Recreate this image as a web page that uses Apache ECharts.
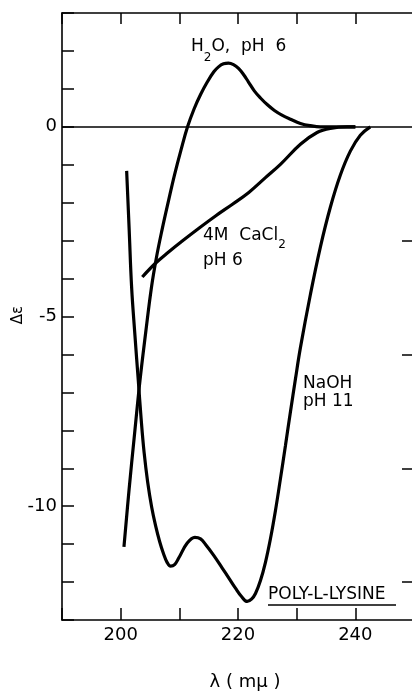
<!DOCTYPE html>
<html>
<head>
<meta charset="utf-8">
<script src="https://cdn.jsdelivr.net/npm/echarts@6/dist/echarts.min.js"></script>
<style>
html,body{margin:0;padding:0;background:#fff;overflow:hidden;}
#chart{width:412px;height:691px;}
</style>
</head>
<body>
<div id="chart"></div>
<script>
// Wavelength (mμ) and Δε values
var h2oX = [200.56, 201.46, 202.30, 203.29, 204.26, 205.24, 206.09, 207.06, 208.17, 209.19, 210.30, 211.40, 212.51, 213.62, 214.76, 215.88, 216.68, 217.53, 218.38, 219.23, 220.09, 220.94, 221.79, 222.81, 223.83, 225.02, 226.21, 227.57, 228.94, 230.64, 232.34, 234.04, 237.0, 240.0];
var h2oY = [-11.07, -9.52, -8.20, -6.69, -5.43, -4.24, -3.45, -2.71, -1.94, -1.26, -0.60, 0.0, 0.47, 0.85, 1.18, 1.45, 1.58, 1.66, 1.68, 1.64, 1.54, 1.38, 1.18, 0.94, 0.76, 0.58, 0.43, 0.30, 0.20, 0.09, 0.03, 0.0, 0.0, 0.0];

var caclX = [203.69, 205.84, 208.17, 210.50, 213.28, 216.17, 219.06, 221.84, 224.68, 227.23, 230.64, 233.48, 235.74, 238.59, 240.0];
var caclY = [-3.96, -3.61, -3.30, -3.01, -2.68, -2.35, -2.04, -1.73, -1.34, -0.99, -0.46, -0.15, -0.04, 0.0, 0.0];

var naohX = [201.02, 201.45, 201.87, 202.43, 203.01, 203.49, 204.00, 204.60, 205.28, 205.96, 206.64, 207.32, 207.91, 208.51, 209.19, 209.92, 211.35, 212.65, 213.62, 214.47, 215.83, 217.31, 218.47, 219.57, 220.60, 221.57, 222.30, 222.98, 223.83, 224.68, 225.53, 226.38, 227.23, 228.09, 228.94, 229.79, 230.64, 232.34, 234.04, 235.74, 237.45, 239.15, 240.85, 242.55];
var naohY = [-1.16, -2.71, -4.24, -5.49, -6.70, -7.70, -8.59, -9.36, -10.02, -10.52, -10.93, -11.26, -11.48, -11.58, -11.54, -11.36, -10.97, -10.82, -10.86, -11.01, -11.29, -11.63, -11.90, -12.16, -12.38, -12.51, -12.45, -12.30, -11.96, -11.48, -10.86, -10.12, -9.28, -8.40, -7.51, -6.65, -5.82, -4.42, -3.17, -2.12, -1.27, -0.64, -0.22, 0.0];

var xTickLabels = [200, 220, 240];
var yTickLabels = [0, -5, -10];
var rightTicks = [-3, -6, -9, -12];
var zeroLine = 0;

function pairs(xs, ys) { return xs.map(function (x, i) { return [x, ys[i]]; }); }

var FONT = "'DejaVu Sans', 'Liberation Sans', Arial, sans-serif";
var chart = echarts.init(document.getElementById('chart'), null, {renderer: 'canvas'});

var lineStyle = {color: '#000', width: 3.2};
var axLine = {show: true, onZero: false, lineStyle: {color: '#000', width: 1.6}};

chart.setOption({
  animation: false,
  backgroundColor: '#fff',
  grid: {left: 62, top: 13, right: -2, bottom: 71, containLabel: false, outerBoundsMode: 'none'},
  xAxis: [{
    type: 'value', min: 190, max: 250, interval: 10, position: 'bottom',
    axisLine: axLine,
    axisTick: {show: true, inside: true, length: 12, lineStyle: {color: '#000', width: 1.5}},
    axisLabel: {color: '#000', fontSize: 18, fontFamily: FONT, margin: 6,
      formatter: function (v) { return xTickLabels.indexOf(v) >= 0 ? String(v) : ''; }},
    splitLine: {show: false}
  }, {
    type: 'value', min: 190, max: 250, interval: 10, position: 'top',
    axisLine: axLine,
    axisTick: {show: true, inside: true, length: 11, lineStyle: {color: '#000', width: 1.5}},
    axisLabel: {show: false},
    splitLine: {show: false}
  }],
  yAxis: [{
    type: 'value', min: -13, max: 3, interval: 1, position: 'left',
    axisLine: axLine,
    axisTick: {show: true, inside: true, length: 12, lineStyle: {color: '#000', width: 1.5}},
    axisLabel: {color: '#000', fontSize: 18, fontFamily: FONT, margin: 5,
      formatter: function (v) { return yTickLabels.indexOf(v) >= 0 ? String(v) : ''; }},
    splitLine: {show: false}
  }, {
    type: 'value', min: -13, max: 3, position: 'right',
    axisLine: axLine,
    axisTick: {show: true, inside: true, length: 12, customValues: rightTicks, lineStyle: {color: '#000', width: 1.5}},
    axisLabel: {show: false},
    splitLine: {show: false}
  }],
  series: [{
    type: 'line', data: pairs(h2oX, h2oY), smooth: 0.4, showSymbol: false,
    lineStyle: lineStyle, silent: true,
    markLine: {silent: true, symbol: 'none', label: {show: false},
      lineStyle: {color: '#000', width: 1.6, type: 'solid'},
      data: [{yAxis: zeroLine}]}
  }, {
    type: 'line', data: pairs(caclX, caclY), smooth: 0.4, showSymbol: false,
    lineStyle: lineStyle, silent: true
  }, {
    type: 'line', data: pairs(naohX, naohY), smooth: 0.4, showSymbol: false,
    lineStyle: lineStyle, silent: true
  }],
  graphic: [
    {type: 'text', left: 191, top: 38, silent: true,
      style: {text: '{n|H}{s|2}{n|O,  pH  6}', fill: '#000', font: '17px ' + FONT,
        rich: {n: {fontSize: 17, fontFamily: FONT, verticalAlign: 'top', lineHeight: 22},
               s: {fontSize: 12, fontFamily: FONT, verticalAlign: 'bottom', lineHeight: 22, padding: [0, 0, -4, 0]}}}},
    {type: 'text', left: 203, top: 227, silent: true,
      style: {text: '{n|4M  CaCl}{s|2}', fill: '#000', font: '17px ' + FONT,
        rich: {n: {fontSize: 17, fontFamily: FONT, verticalAlign: 'top', lineHeight: 21},
               s: {fontSize: 12, fontFamily: FONT, verticalAlign: 'bottom', lineHeight: 21, padding: [0, 0, -3, 0]}}}},
    {type: 'text', x: 203, y: 261, silent: true,
      style: {text: 'pH 6', fill: '#000', font: '17px ' + FONT, verticalAlign: 'middle'}},
    {type: 'text', x: 303, y: 384, silent: true,
      style: {text: 'NaOH', fill: '#000', font: '17px ' + FONT, verticalAlign: 'middle'}},
    {type: 'text', x: 303, y: 402, silent: true,
      style: {text: 'pH 11', fill: '#000', font: '17px ' + FONT, verticalAlign: 'middle'}},
    {type: 'text', x: 268, y: 595, silent: true,
      style: {text: 'POLY-L-LYSINE', fill: '#000', font: '17px ' + FONT, verticalAlign: 'middle'}},
    {type: 'line', silent: true, shape: {x1: 268, y1: 605, x2: 396, y2: 605},
      style: {stroke: '#000', lineWidth: 1.5}},
    {type: 'text', x: 18, y: 315, rotation: Math.PI / 2, silent: true,
      style: {text: 'Δε', fill: '#000', font: '15px ' + FONT, align: 'center', verticalAlign: 'middle'}},
    {type: 'text', x: 245, y: 682, silent: true,
      style: {text: 'λ ( mμ )', fill: '#000', font: '18px ' + FONT, align: 'center', verticalAlign: 'middle'}}
  ]
});
</script>
</body>
</html>
